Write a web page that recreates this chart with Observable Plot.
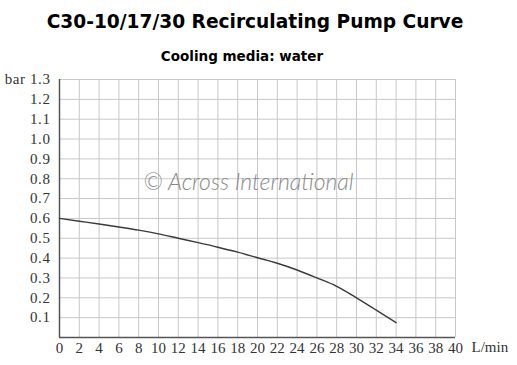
<!DOCTYPE html>
<html>
<head>
<meta charset="utf-8">
<script src="https://cdn.jsdelivr.net/npm/d3@7"></script>
<script src="https://cdn.jsdelivr.net/npm/@observablehq/plot@0.6"></script>
<style>
  html, body { margin: 0; padding: 0; background: #fff; }
  #wrap { position: relative; width: 517px; height: 365px; overflow: hidden; }
  #title { position: absolute; left: 0; top: 11px; width: 510px; text-align: center;
    font: bold 18.6px "DejaVu Sans", Verdana, sans-serif; color: #000; }
  #subtitle { position: absolute; left: 0; top: 48px; width: 484px; text-align: center;
    font: bold 13.5px "DejaVu Sans", Verdana, sans-serif; color: #000; }
  #chart { position: absolute; left: 0; top: 70px; }
  #chart svg g[aria-label="y-axis tick label"] text { letter-spacing: 0.6px; }
</style>
</head>
<body>
<div id="wrap">
  <div id="title"></div>
  <div id="subtitle"></div>
  <div id="chart"></div>
</div>
<script>
const titleText = "C30-10/17/30 Recirculating Pump Curve";
const subtitleText = "Cooling media: water";
const flowLpm = [0, 2, 4, 6, 8, 10, 12, 14, 16, 18, 20, 22, 24, 26, 28, 30, 32, 34];
const pressureBar = [0.600, 0.586, 0.572, 0.557, 0.541, 0.522, 0.500, 0.478, 0.455, 0.430, 0.402, 0.374, 0.340, 0.300, 0.258, 0.200, 0.138, 0.075];
const xTicks = d3.range(0, 41, 2);
const yTicks = [0.1, 0.2, 0.3, 0.4, 0.5, 0.6, 0.7, 0.8, 0.9, 1.0, 1.1, 1.2, 1.3];
const xUnit = "L/min";
const yUnit = "bar";
const watermark = [{x: 19.1, y: 0.78, text: "© Across International"}];

document.getElementById("title").textContent = titleText;
document.getElementById("subtitle").textContent = subtitleText;

const data = flowLpm.map((f, i) => ({flow: f, p: pressureBar[i]}));
const serif = "'Liberation Serif', serif";

const chart = Plot.plot({
  width: 517,
  height: 295,
  marginLeft: 59,
  marginRight: 62,
  marginTop: 9,
  marginBottom: 28,
  style: {background: "#fff", color: "#333", fontFamily: serif, fontSize: "15px"},
  x: {domain: [0, 40], ticks: xTicks, label: null},
  y: {domain: [0, 1.3], ticks: yTicks, label: null},
  marks: [
    Plot.ruleX(xTicks.filter(d => d > 0), {stroke: "#c8c8c8", strokeWidth: 1}),
    Plot.ruleY(yTicks, {stroke: "#c8c8c8", strokeWidth: 1}),
    Plot.text(watermark, {x: "x", y: "y", text: "text", fill: "#8a8a8a", fontSize: 23, fontStyle: "italic", fontWeight: 300, fontFamily: "Lato, sans-serif"}),
    Plot.ruleX([0], {stroke: "#555", strokeWidth: 1.5}),
    Plot.ruleY([0], {stroke: "#555", strokeWidth: 1.5}),
    Plot.line(data, {x: "flow", y: "p", stroke: "#3a3a3a", strokeWidth: 1.4, curve: "monotone-x"}),
    Plot.axisX({ticks: xTicks, tickSize: 0, tickPadding: 5, tickFormat: d => String(d), label: null, fill: "#333", fontSize: 15, fontFamily: serif}),
    Plot.axisY({ticks: yTicks, tickSize: 0, tickPadding: 9, tickFormat: d => (d === 1.3 ? yUnit + " " : "") + d.toFixed(1), label: null, fill: "#333", fontSize: 15, fontFamily: serif}),
    Plot.text([xUnit], {frameAnchor: "bottom-right", dx: 16, dy: 14, textAnchor: "start", fill: "#333", fontSize: 15, fontFamily: serif})
  ]
});
document.getElementById("chart").appendChild(chart);
</script>
</body>
</html>
